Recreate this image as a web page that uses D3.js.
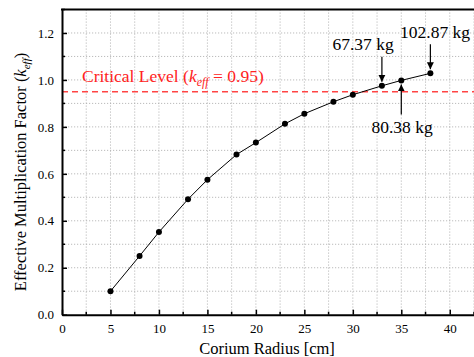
<!DOCTYPE html>
<html><head><meta charset="utf-8">
<script src="https://cdn.jsdelivr.net/npm/d3@7"></script>
<style>body{margin:0;background:#fff}svg{display:block}svg text{font-family:"Liberation Serif","Times New Roman","DejaVu Serif","Noto Serif",Tinos,serif !important}</style>
</head><body>
<svg id="c" width="474" height="357"></svg>
<script>
const radius = [5, 8, 10, 13, 15, 18, 20, 23, 25, 28, 30, 33, 35, 38];
const keff = [0.10, 0.25, 0.352, 0.492, 0.575, 0.682, 0.733, 0.813, 0.856, 0.907, 0.937, 0.975, 0.998, 1.028];
const xTicks = [0, 5, 10, 15, 20, 25, 30, 35, 40];
const yTicks = [0.0, 0.2, 0.4, 0.6, 0.8, 1.0, 1.2];
const critical = 0.95;
const annotations = [
  {r: 33, k: 0.975, label: "67.37 kg", dir: "down"},
  {r: 35, k: 0.998, label: "80.38 kg", dir: "up"},
  {r: 38, k: 1.028, label: "102.87 kg", dir: "down"}
];

const svg = d3.select("#c");
const L = 62, R = 474, T = 9.5, B = 314.7;
const x = d3.scaleLinear().domain([0, 42.5]).range([L, R]);
const y = d3.scaleLinear().domain([0, 1.3]).range([B, T]);

// grid
const g = svg.append("g");
d3.range(2.5, 42.6, 2.5).forEach(v => {
  g.append("line").attr("x1", x(v)).attr("x2", x(v)).attr("y1", T).attr("y2", B)
   .attr("stroke", "#aaa").attr("stroke-width", 0.8).attr("stroke-dasharray", "1.2,1.8");
});
d3.range(1, 13).forEach(i => {
  const v = i / 10;
  g.append("line").attr("x1", L).attr("x2", R).attr("y1", y(v)).attr("y2", y(v))
   .attr("stroke", "#aaa").attr("stroke-width", 0.8).attr("stroke-dasharray", "1.2,1.8");
});

// critical line
svg.append("line").attr("x1", L).attr("x2", R).attr("y1", y(critical)).attr("y2", y(critical))
  .attr("stroke", "#f44").attr("stroke-width", 1.5).attr("stroke-dasharray", "6,4");

// axes
const xAxis = d3.axisBottom(x).tickValues(xTicks).tickSizeInner(-5).tickSizeOuter(0).tickPadding(9).tickFormat(d3.format("d"));
const yAxis = d3.axisLeft(y).tickValues(yTicks).tickSizeInner(-5).tickSizeOuter(0).tickPadding(8).tickFormat(d3.format(".1f"));
const gx = svg.append("g").attr("transform", `translate(0,${B})`).call(xAxis);
const gy = svg.append("g").attr("transform", `translate(${L},0)`).call(yAxis);
[gx, gy].forEach(a => {
  a.attr("font-family", null);
  a.select(".domain").attr("stroke", "#000").attr("stroke-width", 2);
  a.selectAll(".tick line").attr("stroke", "#000").attr("stroke-width", 1.5);
  a.selectAll(".tick text").attr("font-size", 13).attr("fill", "#000");
});
// minor ticks
d3.range(2.5, 42.6, 5).forEach(v => {
  svg.append("line").attr("x1", x(v)).attr("x2", x(v)).attr("y1", B).attr("y2", B - 3).attr("stroke", "#000").attr("stroke-width", 1.5);
});
d3.range(0.1, 1.31, 0.2).forEach(v => {
  svg.append("line").attr("x1", L).attr("x2", L + 3).attr("y1", y(v)).attr("y2", y(v)).attr("stroke", "#000").attr("stroke-width", 1.5);
});
// top border
svg.append("line").attr("x1", L - 1).attr("x2", R).attr("y1", T).attr("y2", T).attr("stroke", "#000").attr("stroke-width", 2);

// data line + markers
const data = radius.map((r, i) => ({r, k: keff[i]}));
svg.append("path").datum(data)
  .attr("d", d3.line().x(d => x(d.r)).y(d => y(d.k)))
  .attr("fill", "none").attr("stroke", "#000").attr("stroke-width", 1);
svg.selectAll("circle.pt").data(data).enter().append("circle")
  .attr("cx", d => x(d.r)).attr("cy", d => y(d.k)).attr("r", 3).attr("fill", "#000");

// arrows
svg.append("defs").append("marker").attr("id", "ah").attr("viewBox", "0 0 10 10")
  .attr("refX", 10).attr("refY", 5).attr("markerWidth", 7).attr("markerHeight", 9)
  .attr("markerUnits", "userSpaceOnUse").attr("orient", "auto")
  .append("path").attr("d", "M0,0 L10,5 L0,10 Z").attr("fill", "#000");

annotations.forEach(a => {
  const px = x(a.r), py = y(a.k);
  if (a.dir === "down") {
    svg.append("line").attr("x1", px).attr("x2", px).attr("y1", py - 29).attr("y2", py - 4)
      .attr("stroke", "#000").attr("stroke-width", 1.2).attr("marker-end", "url(#ah)");
  } else {
    svg.append("line").attr("x1", px).attr("x2", px).attr("y1", py + 34).attr("y2", py + 4)
      .attr("stroke", "#000").attr("stroke-width", 1.2).attr("marker-end", "url(#ah)");
  }
});
svg.append("text").attr("x", 363).attr("y", 50).attr("text-anchor", "middle").attr("font-size", 17.5).text(annotations[0].label);
svg.append("text").attr("x", 402).attr("y", 133).attr("text-anchor", "middle").attr("font-size", 17.5).text(annotations[1].label);
svg.append("text").attr("x", 435).attr("y", 38).attr("text-anchor", "middle").attr("font-size", 17.5).text(annotations[2].label);

// critical label
const ct = svg.append("text").attr("x", 82).attr("y", 82).attr("font-size", 17.5).attr("fill", "#f22");
ct.append("tspan").text("Critical Level (");
ct.append("tspan").attr("font-style", "italic").text("k");
ct.append("tspan").attr("font-style", "italic").attr("font-size", 12).attr("dy", 4).text("eff");
ct.append("tspan").attr("dy", -4).text(" = 0.95)");

// axis labels
svg.append("text").attr("x", 267).attr("y", 354).attr("text-anchor", "middle").attr("font-size", 16.5).text("Corium Radius [cm]");
const yl = svg.append("text").attr("transform", "translate(26,172) rotate(-90)").attr("text-anchor", "middle").attr("font-size", 16.5);
yl.append("tspan").text("Effective Multiplication Factor (");
yl.append("tspan").attr("font-style", "italic").text("k");
yl.append("tspan").attr("font-style", "italic").attr("font-size", 11).attr("dy", 4).text("eff");
yl.append("tspan").attr("dy", -4).text(")");
</script>
</body></html>
